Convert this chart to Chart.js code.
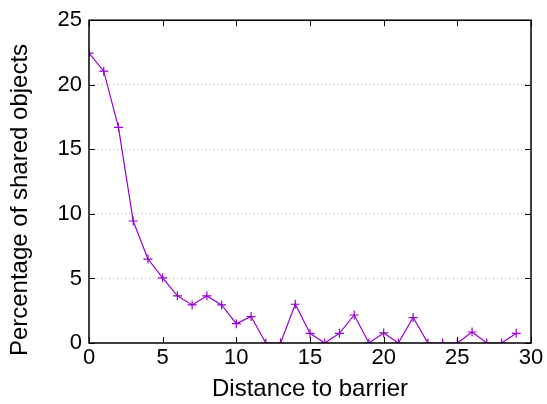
<!DOCTYPE html>
<html>
<head>
<meta charset="utf-8">
<script src="https://cdn.jsdelivr.net/npm/chart.js@4/dist/chart.umd.min.js"></script>
<style>
  html, body { margin: 0; padding: 0; background: #fff; }
  #wrap { width: 547px; height: 404px; }
</style>
</head>
<body>
<div id="wrap"><canvas id="chart"></canvas></div>
<script>
// Data
const distances = [0, 1, 2, 3, 4, 5, 6, 7, 8, 9, 10, 11, 12, 13, 14, 15, 16, 17, 18, 19, 20, 21, 22, 23, 24, 25, 26, 27, 28, 29];
const sharedPct = [22.45, 21.05, 16.7, 9.45, 6.5, 5.05, 3.65, 2.95, 3.65, 2.95, 1.5, 2.05, 0, 0, 3.0, 0.75, 0, 0.75, 2.17, 0, 0.78, 0, 1.97, 0, 0, 0, 0.85, 0, 0, 0.75];
const xTicks = [0, 5, 10, 15, 20, 25, 30];
const yTicks = [0, 5, 10, 15, 20, 25];
const yTitle = 'Percentage of shared objects';

const lineColor = '#9400d3';
const fontFamily = '"Liberation Sans", Arial, Helvetica, sans-serif';

// gnuplot style: border box plus inward ticks on all four sides
const borderTicks = {
    id: 'borderTicks',
    afterDraw(chart) {
        const { ctx, chartArea: a, scales } = chart;
        const len = 6;
        ctx.save();
        ctx.setLineDash([]);
        ctx.strokeStyle = '#000';
        ctx.lineWidth = 1;
        xTicks.forEach(v => {
            const x = Math.round(scales.x.getPixelForValue(v)) + 0.5;
            ctx.beginPath();
            ctx.moveTo(x, a.bottom); ctx.lineTo(x, a.bottom - len);
            ctx.moveTo(x, a.top); ctx.lineTo(x, a.top + len);
            ctx.stroke();
        });
        yTicks.forEach(v => {
            const y = Math.round(scales.y.getPixelForValue(v)) + 0.5;
            ctx.beginPath();
            ctx.moveTo(a.left, y); ctx.lineTo(a.left + len, y);
            ctx.moveTo(a.right, y); ctx.lineTo(a.right - len, y);
            ctx.stroke();
        });
        ctx.lineWidth = 1.5;
        ctx.strokeRect(a.left, a.top, a.right - a.left, a.bottom - a.top);

        // y title sits a bit lower than the plot centre, as in gnuplot output
        ctx.translate(20.5, 200);
        ctx.rotate(-Math.PI / 2);
        ctx.fillStyle = '#000';
        ctx.font = '24px ' + fontFamily;
        ctx.textAlign = 'center';
        ctx.textBaseline = 'middle';
        ctx.fillText(yTitle, 0, 0);
        ctx.restore();
    }
};

const ctx = document.getElementById('chart').getContext('2d');
new Chart(ctx, {
    type: 'line',
    data: {
        datasets: [{
            data: distances.map((d, i) => ({ x: d, y: sharedPct[i] })),
            borderColor: lineColor,
            backgroundColor: lineColor,
            borderWidth: 1.2,
            pointStyle: 'cross',
            pointRadius: 4.5,
            pointBorderWidth: 1.2,
            pointBorderColor: lineColor,
            tension: 0,
            fill: false
        }]
    },
    options: {
        responsive: true,
        maintainAspectRatio: false,
        animation: false,
        layout: { padding: { top: 17, right: 16, left: 0, bottom: 0 } },
        plugins: {
            legend: { display: false },
            tooltip: { enabled: false }
        },
        scales: {
            x: {
                type: 'linear',
                min: 0,
                max: 30,
                afterBuildTicks: s => { s.ticks = xTicks.map(v => ({ value: v })); },
                afterFit: s => { s.height = 61; },
                grid: { display: false, drawTicks: false },
                border: { display: false },
                ticks: {
                    color: '#000',
                    padding: 2,
                    maxRotation: 0,
                    font: { family: fontFamily, size: 22 }
                },
                title: {
                    display: true,
                    text: 'Distance to barrier',
                    color: '#000',
                    padding: { top: 0, bottom: 0 },
                    font: { family: fontFamily, size: 24 }
                }
            },
            y: {
                min: 0,
                max: 25,
                afterBuildTicks: s => { s.ticks = yTicks.map(v => ({ value: v })); },
                afterFit: s => { s.width = 89; },
                grid: {
                    drawTicks: false,
                    color: ctx => (ctx.tick.value === 0 || ctx.tick.value === 25) ? 'rgba(0,0,0,0)' : '#b0b0b0',
                    lineWidth: 1
                },
                border: { display: false, dash: [1, 3] },
                ticks: {
                    color: '#000',
                    padding: 7,
                    font: { family: fontFamily, size: 22 }
                },
                title: { display: false }
            }
        }
    },
    plugins: [borderTicks]
});
</script>
</body>
</html>
